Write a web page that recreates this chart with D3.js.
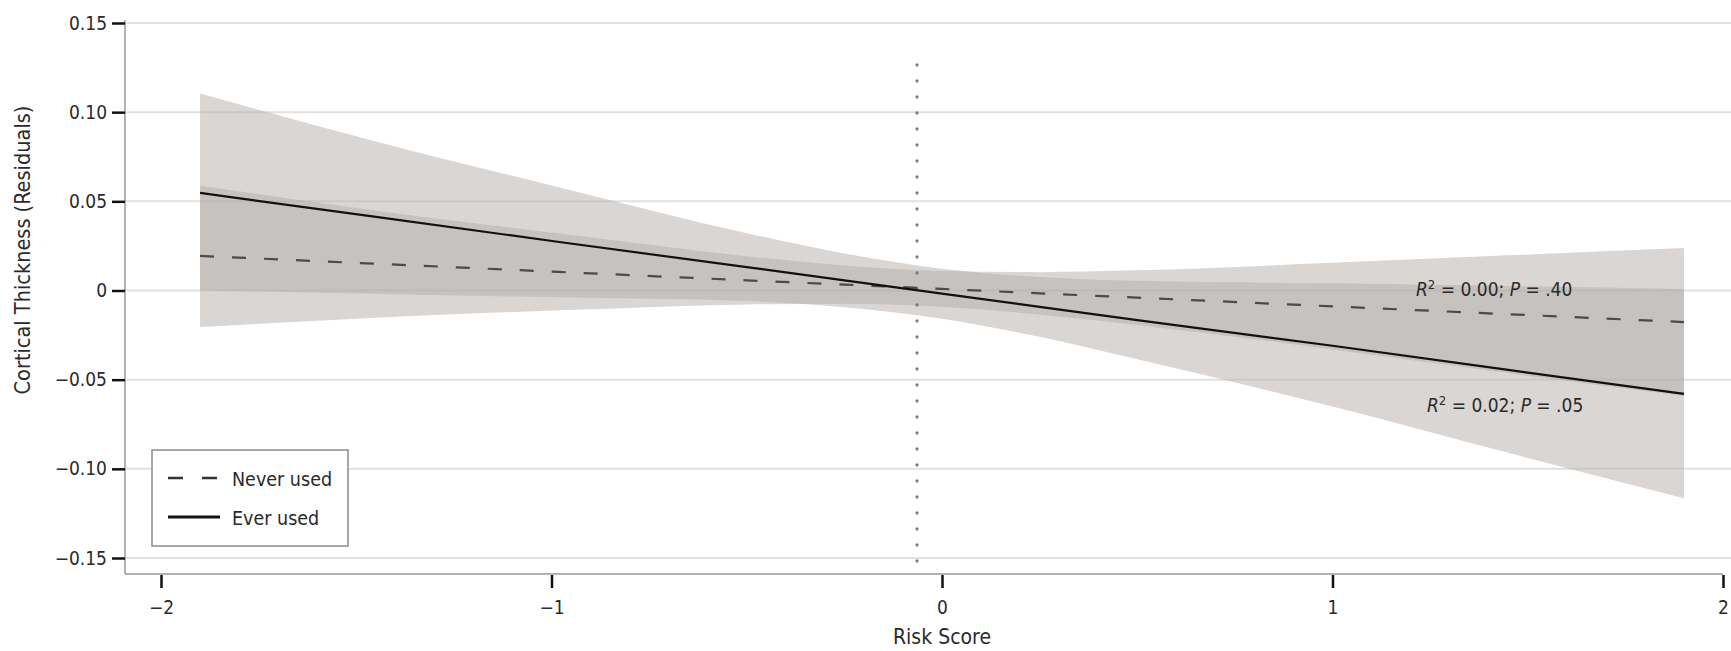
<!DOCTYPE html>
<html>
<head>
<meta charset="utf-8">
<script src="https://cdn.jsdelivr.net/npm/d3@7"></script>
<style>
  html, body { margin: 0; padding: 0; background: #fff; }
  svg { display: block; }
  text { font-family: "DejaVu Sans Condensed", "DejaVu Sans", sans-serif; fill: #2a2a2a; }
</style>
</head>
<body>
<svg id="chart" width="1731" height="651"></svg>
<script>
// ---- Data ----
const riskX      = [-1.9, -1.44, -0.98, -0.5, -0.25, 0, 0.25, 0.5, 1.0, 1.45, 1.9];
const everMid    = [0.0547, 0.041, 0.0272, 0.0131, 0.0057, -0.0018, -0.0092, -0.0166, -0.031, -0.0445, -0.058];
const everUpper  = [0.1105, 0.083, 0.0578, 0.0321, 0.0208, 0.0122, 0.0076, 0.0054, 0.004, 0.0025, 0.0008];
const everLower  = [0.0002, -0.002, -0.0038, -0.0059, -0.0094, -0.0158, -0.026, -0.0386, -0.065, -0.091, -0.1165];
const neverMid   = [0.0194, 0.0149, 0.0104, 0.0057, 0.0033, 0.0009, -0.0016, -0.004, -0.0089, -0.0133, -0.0177];
const neverUpper = [0.0588, 0.0445, 0.0319, 0.0192, 0.014, 0.0109, 0.0103, 0.0113, 0.0155, 0.0197, 0.0238];
const neverLower = [-0.0205, -0.0151, -0.0111, -0.0078, -0.0074, -0.0091, -0.0135, -0.0193, -0.0331, -0.0463, -0.0592];
const meanRisk   = -0.064;
const meanLineTop = 0.1265;
const xTicks = [-2, -1, 0, 1, 2];
const yTicks = [0.15, 0.10, 0.05, 0, -0.05, -0.10, -0.15];
const yTickLabels = ["0.15", "0.10", "0.05", "0", "\u22120.05", "\u22120.10", "\u22120.15"];
const xTickLabels = ["\u22122", "\u22121", "0", "1", "2"];
const seriesNames = ["Never used", "Ever used"];
const annotNever = { x: 1.414, y: 0.001, r2: "0.00", p: ".40" };
const annotEver  = { x: 1.442, y: -0.064, r2: "0.02", p: ".05" };

// ---- Layout ----
const svg = d3.select("#chart");
const plotLeft = 125, plotRight = 1731, plotBottom = 574, plotTop = 20;
const x = d3.scaleLinear().domain([-2, 2]).range([161, 1723]);
const y = d3.scaleLinear().domain([-0.15, 0.15]).range([558, 23]);

// gridlines
svg.append("g").selectAll("line").data(yTicks).join("line")
  .attr("x1", plotLeft).attr("x2", plotRight)
  .attr("y1", d => y(d)).attr("y2", d => y(d))
  .attr("stroke", "#e1e1e1").attr("stroke-width", 2);

// bands
const pts = riskX.map((v, i) => ({ x: v, eu: everUpper[i], el: everLower[i], em: everMid[i],
  nu: neverUpper[i], nl: neverLower[i], nm: neverMid[i] }));
const bandColor = "#b3aea9";
const areaEver = d3.area().x(d => x(d.x)).y0(d => y(d.el)).y1(d => y(d.eu)).curve(d3.curveMonotoneX);
const areaNever = d3.area().x(d => x(d.x)).y0(d => y(d.nl)).y1(d => y(d.nu)).curve(d3.curveMonotoneX);
svg.append("path").datum(pts).attr("d", areaEver).attr("fill", bandColor).attr("fill-opacity", 0.5);
svg.append("path").datum(pts).attr("d", areaNever).attr("fill", bandColor).attr("fill-opacity", 0.5);

// mean dotted line
svg.append("line")
  .attr("x1", x(meanRisk)).attr("x2", x(meanRisk))
  .attr("y1", y(meanLineTop)).attr("y2", plotBottom)
  .attr("stroke", "#777").attr("stroke-width", 3.2)
  .attr("stroke-linecap", "round").attr("stroke-dasharray", "0,16");

// lines
const lineNever = d3.line().x(d => x(d.x)).y(d => y(d.nm));
const lineEver = d3.line().x(d => x(d.x)).y(d => y(d.em));
svg.append("path").datum(pts).attr("d", lineNever).attr("fill", "none")
  .attr("stroke", "#4a4a4a").attr("stroke-width", 2.2).attr("stroke-dasharray", "14,18");
svg.append("path").datum(pts).attr("d", lineEver).attr("fill", "none")
  .attr("stroke", "#111").attr("stroke-width", 2.2);

// axes lines
svg.append("line").attr("x1", plotLeft).attr("x2", plotLeft).attr("y1", plotTop).attr("y2", plotBottom)
  .attr("stroke", "#9a9a9a").attr("stroke-width", 1.5);
svg.append("line").attr("x1", plotLeft).attr("x2", x(2)).attr("y1", plotBottom).attr("y2", plotBottom)
  .attr("stroke", "#9a9a9a").attr("stroke-width", 1.5);

// y axis
const yAxis = d3.axisLeft(y).tickValues(yTicks).tickSize(13).tickPadding(5)
  .tickFormat((d, i) => yTickLabels[i]);
const gy = svg.append("g").attr("transform", `translate(${plotLeft},0)`).call(yAxis);
gy.select(".domain").remove();
gy.selectAll(".tick line").attr("stroke", "#111").attr("stroke-width", 2.5);
gy.selectAll(".tick text").style("font-size", "19px").attr("fill", "#2a2a2a")
  .style("font-family", "'DejaVu Sans Condensed', 'DejaVu Sans', sans-serif");

// x axis
const xAxis = d3.axisBottom(x).tickValues(xTicks).tickSize(13).tickPadding(13)
  .tickFormat((d, i) => xTickLabels[i]);
const gx = svg.append("g").attr("transform", `translate(0,${plotBottom + 1})`).call(xAxis);
gx.select(".domain").remove();
gx.selectAll(".tick line").attr("stroke", "#111").attr("stroke-width", 2.5);
gx.selectAll(".tick text").style("font-size", "19px").attr("fill", "#2a2a2a")
  .style("font-family", "'DejaVu Sans Condensed', 'DejaVu Sans', sans-serif");

// axis titles
svg.append("text").attr("x", x(0)).attr("y", 644).attr("text-anchor", "middle")
  .style("font-size", "21px").text("Risk Score");
svg.append("text").attr("transform", "translate(30,250) rotate(-90)").attr("text-anchor", "middle")
  .style("font-size", "21.5px").text("Cortical Thickness (Residuals)");

// annotations
function annot(a) {
  const t = svg.append("text").attr("x", x(a.x)).attr("y", y(a.y) + 7).attr("text-anchor", "middle")
    .style("font-size", "19px");
  t.append("tspan").style("font-style", "italic").text("R");
  t.append("tspan").attr("dy", -7).style("font-size", "13px").text("2");
  t.append("tspan").attr("dy", 7).text(" = " + a.r2 + "; ");
  t.append("tspan").style("font-style", "italic").text("P");
  t.append("tspan").text(" = " + a.p);
}
annot(annotNever);
annot(annotEver);

// legend
const lg = svg.append("g");
lg.append("rect").attr("x", 152).attr("y", 450).attr("width", 196).attr("height", 96)
  .attr("fill", "#fff").attr("stroke", "#8a8a8a").attr("stroke-width", 1.5);
const legendItems = seriesNames.map((n, i) => ({ name: n, dash: i === 0 ? "15,19" : null }));
legendItems.forEach((it, i) => {
  const cy = 478 + i * 39;
  lg.append("line").attr("x1", 168).attr("x2", 220).attr("y1", cy).attr("y2", cy)
    .attr("stroke", i === 0 ? "#333" : "#111").attr("stroke-width", i === 0 ? 2.5 : 3)
    .attr("stroke-dasharray", it.dash);
  lg.append("text").attr("x", 232).attr("y", cy + 8).style("font-size", "19.5px").text(it.name);
});
</script>
</body>
</html>
